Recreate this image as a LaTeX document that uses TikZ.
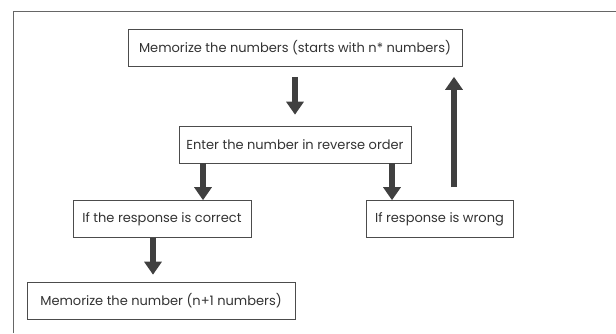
\documentclass[tikz,border=0pt]{standalone}
\usepackage{fontspec}
\setmainfont{Poppins}
\usetikzlibrary{arrows.meta}
\tikzset{
  caja/.style={draw=black!70,line width=.6pt,text=black!80,font=\fontsize{13}{15}\selectfont,inner sep=0pt,minimum height=37pt},
  flecha/.style={line width=6pt,draw=black!75,-{Triangle[width=17pt,length=13pt]}}
}
\begin{document}
\begin{tikzpicture}[x=1pt,y=-1pt]
			\useasboundingbox (0,0) rectangle (616,333);
			% Marco
			\draw[black!60,line width=.6pt] (13,333) -- (13,11) -- (616,11);

			% Cajas
			\node[caja,minimum width=334pt] (memo) at (295,48) {Memorize the numbers (starts with n* numbers)};
			\node[caja,minimum width=232pt] (inverso) at (295,144.5) {Enter the number in reverse order};
			\node[caja,minimum width=178pt] (correcto) at (162,219) {If the response is correct};
			\node[caja,minimum width=147pt] (errado) at (439.5,219) {If response is wrong};
			\node[caja,minimum width=268pt] (siguiente) at (161,300.5) {Memorize the number (n+1 numbers)};

			% Flechas
			\draw[flecha,shorten <=10pt,shorten >=11pt] (memo.south) -- (inverso.north);
			\draw[flecha] (inverso.south -| 203,0) -- (correcto.north -| 203,0);
			\draw[flecha] (inverso.south -| 392,0) -- (errado.north -| 392,0);
			\draw[flecha,shorten >=7pt] (correcto.south -| 153,0) -- (siguiente.north -| 153,0);
			\draw[flecha,shorten <=13pt,shorten >=10pt] (errado.north -| 454,0) -- (memo.south -| 454,0);
		    \end{tikzpicture}
\end{document}
